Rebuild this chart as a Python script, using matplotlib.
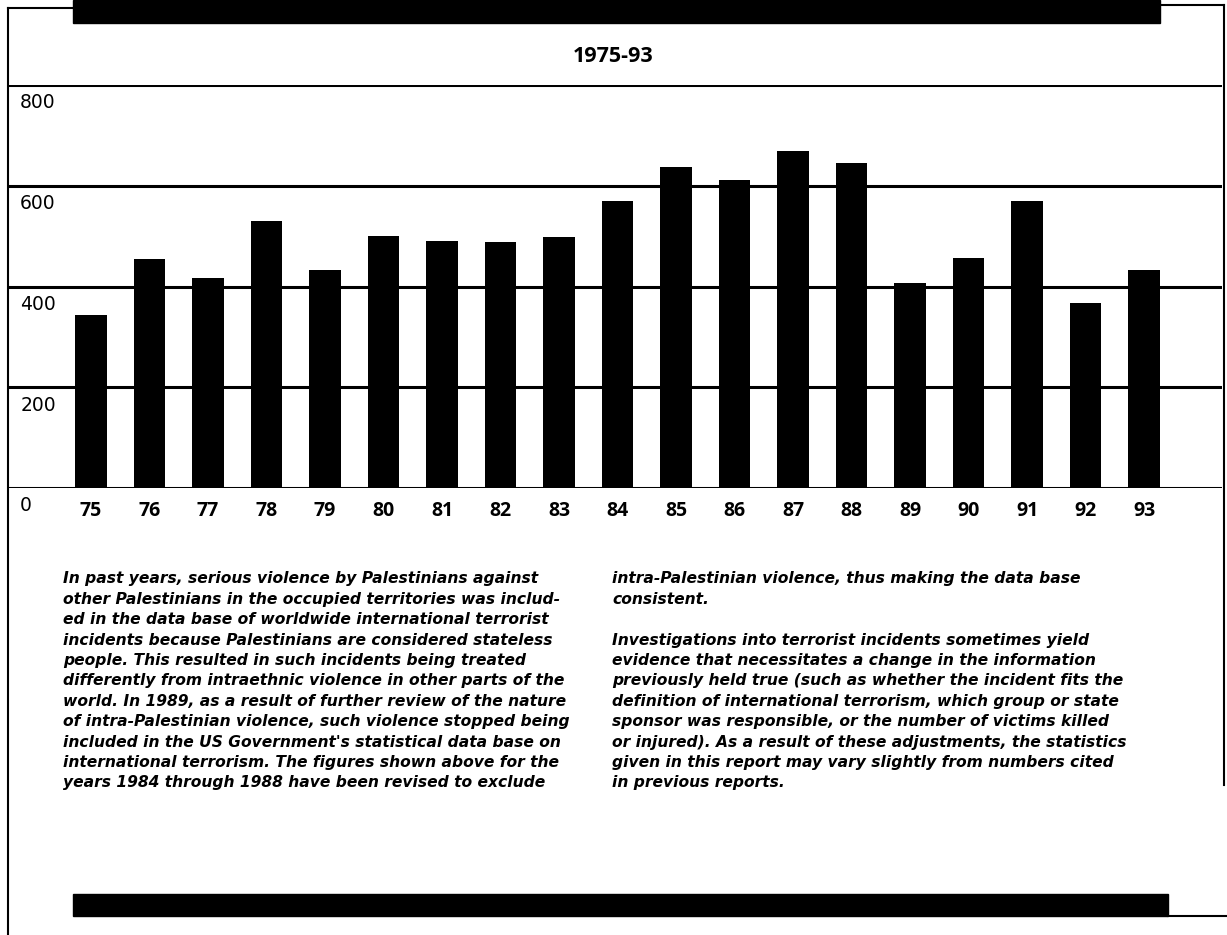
import matplotlib
matplotlib.use("Agg")
import matplotlib.pyplot as plt
from matplotlib.lines import Line2D
from matplotlib.patches import Rectangle
import matplotlib.transforms as mtransforms

# data
years = ["75", "76", "77", "78", "79", "80", "81", "82", "83", "84",
         "85", "86", "87", "88", "89", "90", "91", "92", "93"]
incidents = [343, 454, 417, 531, 432, 500, 490, 488, 498, 570,
             638, 612, 668, 646, 406, 457, 570, 368, 432]
y_ticks = [0, 200, 400, 600, 800]
title = "1975-93"

left_note = [
    "In past years, serious violence by Palestinians against",
    "other Palestinians in the occupied territories was includ-",
    "ed in the data base of worldwide international terrorist",
    "incidents because Palestinians are considered stateless",
    "people. This resulted in such incidents being treated",
    "differently from intraethnic violence in other parts of the",
    "world. In 1989, as a result of further review of the nature",
    "of intra-Palestinian violence, such violence stopped being",
    "included in the US Government's statistical data base on",
    "international terrorism. The figures shown above for the",
    "years 1984 through 1988 have been revised to exclude",
]
right_note = [
    "intra-Palestinian violence, thus making the data base",
    "consistent.",
    "",
    "Investigations into terrorist incidents sometimes yield",
    "evidence that necessitates a change in the information",
    "previously held true (such as whether the incident fits the",
    "definition of international terrorism, which group or state",
    "sponsor was responsible, or the number of victims killed",
    "or injured). As a result of these adjustments, the statistics",
    "given in this report may vary slightly from numbers cited",
    "in previous reports.",
]

W, H = 1227, 935


def fx(px):
    return px / W


def fy(py):
    return 1 - py / H


fig = plt.figure(figsize=(W / 100, H / 100), dpi=100)
fig.patch.set_facecolor("white")

# plot area: baseline at y=488 px, 800 line at y=85 px
ax = fig.add_axes([fx(8), fy(488), fx(1222) - fx(8), (488 - 85) / H])
x = list(range(len(years)))
ax.bar(x, incidents, width=0.53, color="black", zorder=2)
ax.set_ylim(0, 800)
ax.set_xlim((8 - 91) / 58.5, (1222 - 91) / 58.5)
for s in ax.spines.values():
    s.set_visible(False)
for v in y_ticks:
    ax.axhline(v, color="black", lw=2.2, zorder=1)

ax.set_yticks([])
ax.set_xticks(x)
ax.set_xticklabels(years, fontsize=14, fontweight="bold", family="Open Sans")
ax.tick_params(axis="x", length=0, pad=9)

lab_tr = mtransforms.offset_copy(ax.get_yaxis_transform(), fig=fig, y=-6, units="points")
for v in y_ticks:
    ax.text(0.010, v, str(v), transform=lab_tr, ha="left", va="top",
            fontsize=13.5, family="DejaVu Sans")

fig.text(fx(613), fy(57), title, ha="center", va="center",
         fontsize=15.5, fontweight="bold", family="Open Sans")

# frame and black bars
frame = [
    ([8, 8], [8, 935]),
    ([8, 73], [8, 8]),
    ([1160, 1224], [5, 5]),
    ([1224, 1224], [5, 785]),
    ([1168, 1227], [916, 916]),
]
for xs, ys in frame:
    fig.add_artist(Line2D([fx(v) for v in xs], [fy(v) for v in ys], color="black", lw=1.5))
fig.add_artist(Rectangle((fx(73), fy(23)), fx(1160) - fx(73), 23 / H, color="black"))
fig.add_artist(Rectangle((fx(73), fy(916)), fx(1168) - fx(73), 22 / H, color="black"))

# notes under the chart
note_style = dict(ha="left", va="center", fontsize=11.2, style="oblique",
                  fontweight="bold", family="DejaVu Sans")
for i, line in enumerate(left_note):
    fig.text(fx(63), fy(579 + i * 20.4), line, **note_style)
for i, line in enumerate(right_note):
    fig.text(fx(612), fy(579 + i * 20.4), line, **note_style)

fig.savefig("out.png", dpi=100, facecolor="white")
